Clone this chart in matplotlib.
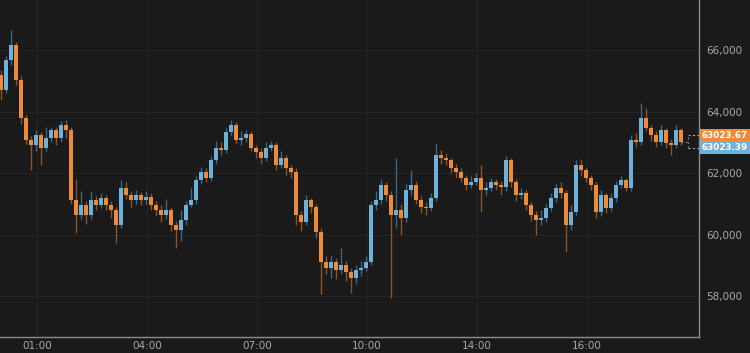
import numpy as np
import matplotlib.pyplot as plt
from matplotlib.transforms import blended_transform_factory

# Cierres, máximos y mínimos de cada vela
first_open = 65190
closes = [64700, 65680, 66160, 65020, 63790, 63070, 62910, 63240, 62810, 63140,
          63400, 63140, 63560, 63400, 61120, 60630, 60960, 60630, 61120, 60960,
          61190, 60960, 60800, 60310, 61510, 61280, 61120, 61280, 61120, 61220,
          60960, 60800, 60630, 60800, 60310, 60150, 60470, 60960, 61120, 61770,
          62030, 61840, 62420, 62810, 62750, 63330, 63560, 63070, 63140, 63270,
          62810, 62680, 62490, 62810, 62910, 62260, 62490, 62160, 62030, 60630,
          60410, 61120, 60890, 60080, 59110, 58910, 59110, 58850, 59010, 58780,
          58590, 58850, 58910, 59110, 60960, 61120, 61610, 61280, 60630, 60800,
          60540, 61450, 61610, 61120, 60890, 60860, 61190, 62590, 62490, 62420,
          62160, 62030, 61840, 61610, 61710, 61840, 61450, 61510, 61710, 61610,
          61540, 62420, 61710, 61280, 61350, 60960, 60630, 60470, 60540, 60860,
          61190, 61510, 61350, 60310, 60730, 62260, 62100, 61840, 61610, 60730,
          61280, 60860, 61190, 61610, 61770, 61510, 63070, 63010, 63790, 63460,
          63240, 63010, 63400, 62980, 62910, 63400, 63023.67]
highs = [65350, 65800, 66650, 66250, 65150, 63900, 63200, 63400, 63330, 63500,
         63500, 63480, 63700, 63720, 63500, 61800, 61400, 61100, 61400, 61250,
         61350, 61300, 61100, 60900, 61770, 61700, 61400, 61450, 61380, 61400,
         61350, 61100, 60950, 61150, 60900, 60450, 60800, 61100, 61500, 61900,
         62200, 62150, 62550, 63050, 63000, 63450, 63720, 63650, 63350, 63400,
         63350, 62900, 62800, 63000, 63050, 63000, 62700, 62600, 62250, 62150,
         60750, 61300, 61200, 61000, 60200, 59300, 59350, 59250, 59560, 59150,
         58900, 59000, 59150, 59300, 61100, 61400, 61800, 61700, 61400, 62490,
         61000, 61650, 62100, 61750, 61250, 61050, 61350, 62980, 62750, 62650,
         62500, 62300, 62150, 61950, 61900, 62000, 62260, 61700, 61850, 61800,
         61750, 62550, 62500, 61800, 61500, 61450, 61050, 60750, 60800, 61000,
         61350, 61650, 61700, 61450, 60950, 62420, 62450, 62200, 61950, 61700,
         61450, 61350, 61350, 61750, 61900, 61850, 63250, 63300, 64280, 64100,
         63550, 63350, 63550, 63450, 63100, 63550, 63450]
lows = [64370, 64600, 65500, 64850, 63600, 62950, 62100, 62700, 62260, 62700,
        63000, 62900, 63000, 63150, 61000, 60050, 60500, 60350, 60500, 60800,
        60850, 60800, 60550, 59720, 60200, 61150, 60900, 61000, 60950, 61000,
        60800, 60600, 60400, 60500, 60100, 59560, 59800, 60300, 60900, 61000,
        61650, 61700, 61750, 62300, 62600, 62650, 63200, 62950, 62900, 63000,
        62700, 62500, 62300, 62400, 62700, 62100, 62150, 61950, 61850, 60310,
        60100, 60300, 60700, 59900, 58080, 58700, 58600, 58550, 58700, 58500,
        58100, 58400, 58650, 58800, 59000, 60800, 61000, 61100, 57940, 60200,
        59980, 60400, 61300, 61000, 60700, 60650, 60750, 61100, 62300, 62250,
        62000, 61850, 61700, 61450, 61500, 61600, 60730, 61300, 61400, 61450,
        61300, 61400, 61550, 61100, 61150, 60800, 60450, 59980, 60300, 60400,
        60750, 61050, 61200, 59430, 60150, 60650, 61900, 61700, 61450, 60550,
        60600, 60700, 60750, 61050, 61500, 61400, 61400, 62850, 62900, 63350,
        63050, 62850, 62900, 62800, 62590, 62800, 62900]
precio_a = 63023.67
precio_b = 63023.39

tick_pos = [7.2, 29.2, 51.2, 73.2, 95.2, 117.2]
tick_labels = ['01:00', '04:00', '07:00', '10:00', '14:00', '16:00']
y_ticks = [58000, 60000, 62000, 64000, 66000]

fondo = '#1a1a1a'
naranja = '#ee8b3a'
azul = '#6eb1da'
naranja_osc = '#8a5526'
azul_osc = '#3f6680'

opens = np.array([first_open] + closes[:-1])
closes = np.array(closes)
highs = np.array(highs)
lows = np.array(lows)
x = np.arange(len(closes))
sube = closes >= opens

fig = plt.figure(figsize=(7.5, 3.53), dpi=100, facecolor=fondo)
ax = fig.add_axes([0, 0.0453, 0.932, 0.9547], facecolor=fondo)

# mechas
ax.vlines(x[sube], lows[sube], highs[sube], color=azul_osc, lw=1.0, zorder=2)
ax.vlines(x[~sube], lows[~sube], highs[~sube], color=naranja_osc, lw=1.0, zorder=2)
# cuerpos
ax.bar(x[sube], closes[sube] - opens[sube], bottom=opens[sube], width=0.7,
       color=azul, zorder=3, linewidth=0)
ax.bar(x[~sube], opens[~sube] - closes[~sube], bottom=closes[~sube], width=0.7,
       color=naranja, zorder=3, linewidth=0)

ax.set_xlim(-0.2, 139.6)
ax.set_ylim(56667, 67626)

ax.set_xticks(tick_pos)
ax.set_xticklabels(tick_labels)
ax.set_yticks(y_ticks)
ax.set_yticklabels([f'{v:,}' for v in y_ticks])
ax.yaxis.tick_right()
ax.tick_params(axis='both', length=0, colors='#a8a8a8', labelsize=7.5)
ax.tick_params(axis='y', pad=5)
ax.tick_params(axis='x', pad=3)
for lbl in ax.get_yticklabels():
    lbl.set_horizontalalignment('left')
ax.grid(True, color='#242424', lw=0.8, zorder=0)

for s in ['top', 'left']:
    ax.spines[s].set_visible(False)
for s in ['right', 'bottom']:
    ax.spines[s].set_color('#8c8c8c')
    ax.spines[s].set_linewidth(1.0)

# etiquetas de precio a la derecha
tr = blended_transform_factory(ax.transAxes, ax.transData)
ax.text(1.004, precio_a + 200, f'{precio_a:.2f}', transform=tr, color='white',
        fontsize=6.3, fontweight='bold', va='center', ha='left', clip_on=False,
        bbox=dict(boxstyle='square,pad=0.2', fc=naranja, ec='none'))
ax.text(1.004, precio_b - 200, f'{precio_b:.2f}', transform=tr, color='white',
        fontsize=6.3, fontweight='bold', va='center', ha='left', clip_on=False,
        bbox=dict(boxstyle='square,pad=0.2', fc=azul, ec='none'))

# líneas discontinuas hacia las etiquetas
ax.plot([x[-1], 137.4], [precio_a, precio_a], color='#777777', lw=0.8, ls=(0, (2, 2)))
ax.plot([137.4, 139.6], [precio_a + 200, precio_a + 200], color=naranja, lw=0.8,
        ls=(0, (2, 2)), clip_on=False)
ax.plot([137.4, 139.6], [precio_b - 200, precio_b - 200], color=azul, lw=0.8,
        ls=(0, (2, 2)), clip_on=False)
ax.plot([137.4, 137.4], [precio_b - 200, precio_a + 200], color='#777777', lw=0.8,
        ls=(0, (2, 2)))

fig.savefig('out.png', dpi=100, facecolor=fondo)
